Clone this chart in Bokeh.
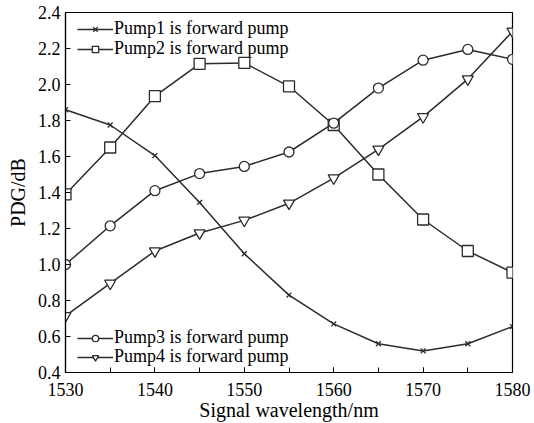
from bokeh.plotting import figure
from bokeh.models import Legend, LegendItem, FixedTicker, Range1d, CustomJSTickFormatter
from bokeh.embed import file_html
from bokeh.resources import INLINE

wavelength = [1530, 1535, 1540, 1545, 1550, 1555, 1560, 1565, 1570, 1575, 1580]
pump1 = [1.86, 1.775, 1.605, 1.345, 1.06, 0.83, 0.67, 0.56, 0.52, 0.56, 0.655]
pump2 = [1.39, 1.65, 1.935, 2.115, 2.12, 1.99, 1.775, 1.50, 1.25, 1.075, 0.955]
pump3 = [1.00, 1.215, 1.41, 1.505, 1.545, 1.625, 1.785, 1.98, 2.135, 2.195, 2.14]
pump4 = [0.715, 0.895, 1.075, 1.175, 1.245, 1.34, 1.48, 1.64, 1.82, 2.03, 2.295]
labels = ["Pump1 is forward pump", "Pump2 is forward pump",
          "Pump3 is forward pump", "Pump4 is forward pump"]
x_ticks = [1530, 1540, 1550, 1560, 1570, 1580]
y_ticks = [0.4, 0.6, 0.8, 1.0, 1.2, 1.4, 1.6, 1.8, 2.0, 2.2, 2.4]

FONT = "Liberation Serif"
LC = "#2b2b2b"

p = figure(width=534, height=423, output_backend="svg", toolbar_location=None,
           x_range=Range1d(1530, 1580), y_range=Range1d(0.4, 2.4),
           min_border_left=65, min_border_right=22, min_border_top=12, min_border_bottom=50)
p.grid.visible = False
p.outline_line_color = "black"
p.outline_line_width = 1.2
p.background_fill_color = "white"

for ax in (p.xaxis[0], p.yaxis[0]):
    ax.axis_line_color = "black"
    ax.axis_line_width = 1.2
    ax.major_tick_in = 5
    ax.major_tick_out = 0
    ax.minor_tick_in = 5
    ax.minor_tick_out = 0
    ax.major_tick_line_color = "black"
    ax.minor_tick_line_color = "black"
    ax.major_label_text_font = FONT
    ax.major_label_text_font_size = "18px"
    ax.major_label_text_color = "black"
    ax.axis_label_text_font = FONT
    ax.axis_label_text_font_size = "20px"
    ax.axis_label_text_font_style = "normal"
    ax.axis_label_text_color = "black"

p.xaxis.ticker = FixedTicker(ticks=x_ticks, minor_ticks=list(range(1530, 1581, 5)))
p.yaxis.ticker = FixedTicker(ticks=y_ticks)
p.yaxis.formatter = CustomJSTickFormatter(code="return tick.toFixed(1);")
p.xaxis.axis_label = "Signal wavelength/nm"
p.yaxis.axis_label = "PDG/dB"
p.xaxis.major_label_standoff = 10
p.yaxis.major_label_standoff = 5
p.xaxis.axis_label_standoff = 0
p.yaxis.axis_label_standoff = 6

series = [(pump1, "x", 7), (pump2, "square", 11), (pump3, "circle", 10), (pump4, "inverted_triangle", 11)]
items = []
for (ys, marker, size), lab in zip(series, labels):
    r1 = p.line(wavelength, ys, line_color=LC, line_width=1.5)
    r2 = p.scatter(wavelength, ys, marker=marker, size=size, line_color=LC, line_width=1.3,
                   fill_color="white" if marker != "x" else None)
    items.append(LegendItem(label=lab, renderers=[r1, r2]))

def make_legend(it, loc):
    return Legend(items=[it], location=loc, orientation="vertical",
                  background_fill_alpha=0, border_line_color=None,
                  padding=0, margin=0, spacing=0, glyph_width=36, glyph_height=16,
                  label_height=16, label_standoff=1,
                  label_text_font=FONT, label_text_font_size="18px",
                  label_text_color="black")

legend_y = [333, 313, 24, 5]
for it, ly in zip(items, legend_y):
    p.add_layout(make_legend(it, (12, ly)), "center")

open("out.html", "w").write(file_html(p, INLINE))
